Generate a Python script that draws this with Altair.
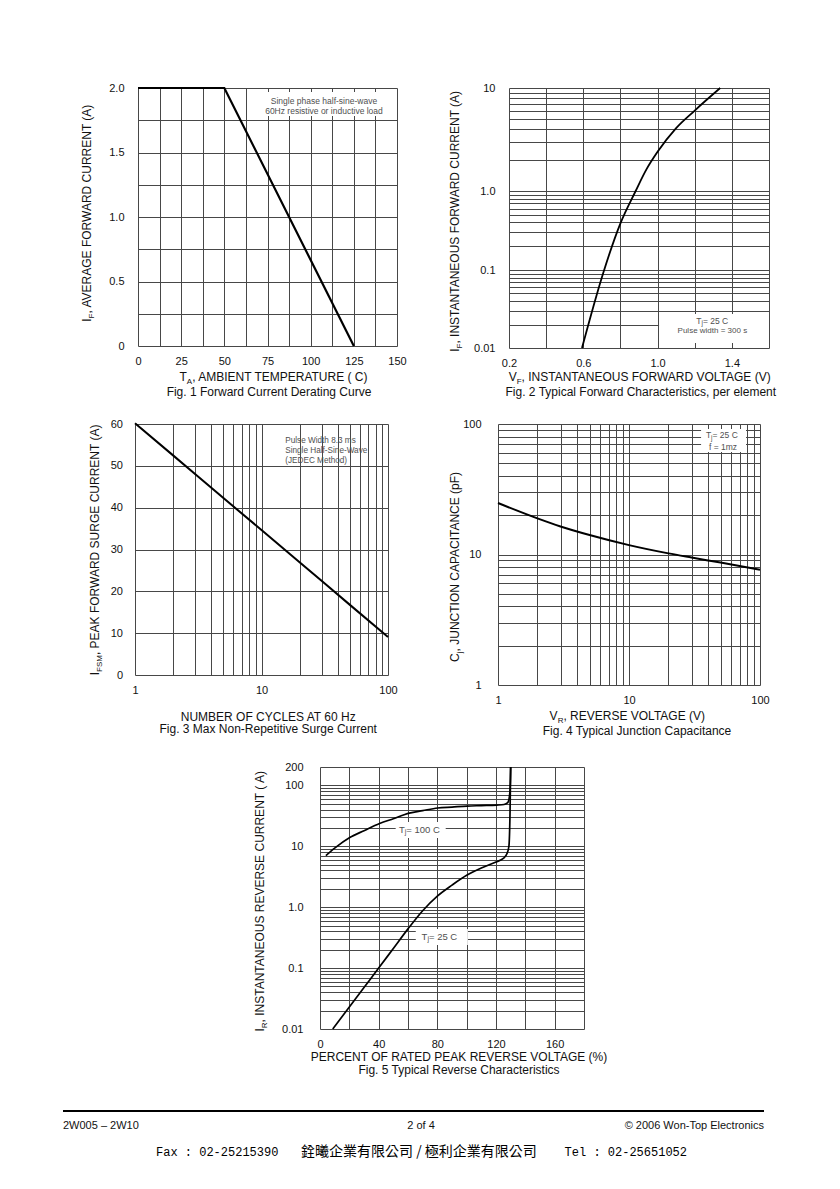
import altair as alt
import pandas as pd

FONT = "Liberation Sans"
MONO = "Liberation Mono"
CJK = "Noto Sans CJK TC"
GRID = "#474747"
INK = "#111111"
NOTE_INK = "#505050"

# ---------------- Fig. 1 ----------------
F1_TEMP = [0, 50, 125]
F1_CURRENT = [2.0, 2.0, 0.0]
F1_X_GRID = [0, 12.5, 25, 37.5, 50, 62.5, 75, 87.5, 100, 112.5, 125, 137.5, 150]
F1_X_LABELS = [(0, "0"), (25, "25"), (50, "50"), (75, "75"), (100, "100"), (125, "125"), (150, "150")]
F1_Y_GRID = [0, 0.25, 0.5, 0.75, 1.0, 1.25, 1.5, 1.75, 2.0]
F1_Y_LABELS = [(0, "0"), (0.5, "0.5"), (1.0, "1.0"), (1.5, "1.5"), (2.0, "2.0")]
F1_NOTE = ["Single phase half-sine-wave", "60Hz resistive or inductive load"]
F1_NOTE_X = [107.7, 107.7]
F1_NOTE_Y = [1.902, 1.824]
F1_BOX = [72.4, 150, 1.783, 1.969]

# ---------------- Fig. 2 ----------------
F2_VF = [0.593, 0.707, 0.80, 0.882, 0.94, 1.0, 1.1, 1.2, 1.3375]
F2_IF = [0.01, 0.091, 0.39, 1.0, 1.62, 2.4, 4.08, 6.04, 10.0]
F2_X_GRID = [0.2, 0.4, 0.6, 0.8, 1.0, 1.2, 1.4, 1.6]
F2_X_LABELS = [(0.2, "0.2"), (0.6, "0.6"), (1.0, "1.0"), (1.4, "1.4")]
F2_Y_GRID = [0.01, 0.02, 0.03, 0.04, 0.05, 0.06, 0.07, 0.08, 0.09,
             0.1, 0.2, 0.3, 0.4, 0.5, 0.6, 0.7, 0.8, 0.9,
             1, 2, 3, 4, 5, 6, 7, 8, 9, 10]
F2_Y_LABELS = [(0.01, "0.01"), (0.1, "0.1"), (1, "1.0"), (10, "10")]
F2_Y_DOMAIN = [0.01, 0.1, 1, 10]
F2_Y_RANGE = [260, 182, 103, 0]
F2_NOTE_X = 1.301
F2_NOTE_Y = [0.0222, 0.0165]
F2_BOX = [1.008, 1.6, 0.0116, 0.0273]

# ---------------- Fig. 3 ----------------
F3_CYCLES = [1, 2, 3, 5, 10, 20, 30, 50, 100]
F3_IFSM = [60.2, 52.5, 48.0, 42.3, 34.65, 26.96, 22.46, 16.76, 9.1]
F3_X_GRID = [1, 2, 3, 4, 5, 6, 7, 8, 9, 10, 20, 30, 40, 50, 60, 70, 80, 90, 100]
F3_X_LABELS = [(1, "1"), (10, "10"), (100, "100")]
F3_Y_GRID = [0, 10, 20, 30, 40, 50, 60]
F3_Y_LABELS = [(0, "0"), (10, "10"), (20, "20"), (30, "30"), (40, "40"), (50, "50"), (60, "60")]
F3_NOTE = ["Pulse Width 8.3 ms", "Single Half-Sine-Wave", "(JEDEC Method)"]
F3_NOTE_X = [15.4, 15.4, 15.4]
F3_NOTE_Y = [55.9, 53.5, 51.2]

# ---------------- Fig. 4 ----------------
F4_VR = [1, 2, 3, 5, 10, 20, 30, 50, 100]
F4_CJ = [24.8, 18.9, 16.4, 14.1, 11.8, 10.2, 9.48, 8.67, 7.65]
F4_X_GRID = [1, 2, 3, 4, 5, 6, 7, 8, 9, 10, 20, 30, 40, 50, 60, 70, 80, 90, 100]
F4_X_LABELS = [(1, "1"), (10, "10"), (100, "100")]
F4_Y_GRID = [1, 2, 3, 4, 5, 6, 7, 8, 9, 10, 20, 30, 40, 50, 60, 70, 80, 90, 100]
F4_Y_LABELS = [(1, "1"), (10, "10"), (100, "100")]
F4_NOTE_X = 52.2
F4_NOTE_Y = [82.3, 66.7]
F4_BOX = [35.5, 78.2, 61.0, 91.6]

# ---------------- Fig. 5 ----------------
F5_PCT_100 = [4, 10, 20.3, 30, 40.6, 50, 60.9, 70, 80.2, 90, 100.3, 110, 120.4, 125.5, 128, 129.3, 129.8, 130]
F5_IR_100 = [7.0, 9.3, 13.9, 18.0, 23.6, 28.3, 34.9, 38.4, 42.5, 44.0, 45.7, 46.5, 47.4, 48.5, 52, 70, 120, 200]
F5_PCT_25 = [8.7, 20, 30, 40, 50, 60, 70, 80, 90, 100, 110, 120, 125, 127.5, 128.8, 129.6, 130]
F5_IR_25 = [0.01, 0.023, 0.048, 0.1, 0.21, 0.44, 0.875, 1.52, 2.3, 3.33, 4.39, 5.52, 6.3, 7.6, 10.0, 40, 200]
F5_X_GRID = [0, 20, 40, 60, 80, 100, 120, 140, 160, 180]
F5_X_LABELS = [(0, "0"), (40, "40"), (80, "80"), (120, "120"), (160, "160")]
F5_Y_GRID = [0.01, 0.02, 0.03, 0.04, 0.05, 0.06, 0.07, 0.08, 0.09,
             0.1, 0.2, 0.3, 0.4, 0.5, 0.6, 0.7, 0.8, 0.9,
             1, 2, 3, 4, 5, 6, 7, 8, 9,
             10, 20, 30, 40, 50, 60, 70, 80, 90, 100, 200]
F5_Y_LABELS = [(0.01, "0.01"), (0.1, "0.1"), (1, "1.0"), (10, "10"), (100, "100"), (200, "200")]
F5_NOTE_X = [68.7, 82.3]
F5_NOTE_Y = [18.5, 0.324]
F5_BOX_100 = [51.6, 85.7, 13.7, 25.0]
F5_BOX_25 = [65.3, 100.8, 0.239, 0.438]

# ---------------- helpers ----------------
ARIAL = {' ': 278, ',': 278, '(': 333, ')': 333, '.': 278, '-': 333, '=': 584, '%': 889, ':': 278,
         'A': 667, 'B': 667, 'C': 722, 'D': 722, 'E': 667, 'F': 611, 'G': 778, 'H': 722, 'I': 278,
         'J': 500, 'K': 667, 'L': 556, 'M': 833, 'N': 722, 'O': 778, 'P': 667, 'Q': 778, 'R': 722,
         'S': 667, 'T': 611, 'U': 722, 'V': 667, 'W': 944, 'X': 667, 'Y': 667, 'Z': 611,
         'a': 556, 'b': 556, 'c': 500, 'd': 556, 'e': 556, 'f': 278, 'g': 556, 'h': 556, 'i': 222,
         'j': 222, 'k': 500, 'l': 222, 'm': 833, 'n': 556, 'o': 556, 'p': 556, 'q': 556, 'r': 333,
         's': 500, 't': 278, 'u': 556, 'v': 500, 'w': 722, 'x': 500, 'y': 500, 'z': 500}


def tw(s, size):
    return sum(ARIAL.get(c, 556) for c in s) * size / 1000.0


ONE = pd.DataFrame({"k": [0]})


def label_expr(pairs):
    parts = [f"datum.value == {v!r} ? '{t}'" for v, t in pairs]
    return " : ".join(parts) + " : ''"


def make_axis(values, pairs, pad):
    return alt.Axis(values=values, labelExpr=label_expr(pairs), grid=True, gridColor=GRID,
                    gridWidth=1, gridOpacity=1, domain=False, ticks=False, labelFont=FONT,
                    labelFontSize=11, labelColor=INK, labelPadding=pad, labelFlush=False,
                    labelOverlap=False, title=None)


def text_mark(text, px, py, size=12, align="left", baseline="alphabetic", angle=0,
              color=INK, font=FONT):
    kw = dict(text=text, fontSize=size, align=align, baseline=baseline, color=color, font=font)
    if angle:
        kw["angle"] = angle
    return alt.Chart(ONE).mark_text(**kw).encode(x=alt.value(px), y=alt.value(py))


def hrich(segs, cx, mid_y):
    total = sum(tw(t, 8 if s else 12) for t, s in segs)
    x = cx - total / 2
    base = mid_y + 4.3
    out = []
    for t, s in segs:
        fs = 8 if s else 12
        out.append(text_mark(t, x, base + (3 if s else 0), fs))
        x += tw(t, fs)
    return out


def vrich(segs, base_x, cy):
    total = sum(tw(t, 8 if s else 12) for t, s in segs)
    y = cy + total / 2
    out = []
    for t, s in segs:
        fs = 8 if s else 12
        out.append(text_mark(t, base_x + (3 if s else 0), y, fs, angle=270))
        y -= tw(t, fs)
    return out


def note_rich(segs, xv, yv, X, Y, size, subsize):
    total = sum(tw(t, subsize if s else size) for t, s in segs)
    dx = -total / 2
    df = pd.DataFrame({"x": [xv], "y": [yv]})
    out = []
    for t, s in segs:
        fs = subsize if s else size
        out.append(alt.Chart(df).mark_text(text=t, fontSize=fs, font=FONT, color=NOTE_INK,
                                           align="left", baseline="middle", dx=dx,
                                           dy=(2.5 if s else 0)).encode(x=X, y=Y))
        dx += tw(t, fs)
    return out


def white_box(b, X, Y):
    df = pd.DataFrame({"x": [b[0]], "x2": [b[1]], "y": [b[2]], "y2": [b[3]]})
    return alt.Chart(df).mark_rect(color="white").encode(x=X, x2=alt.X2("x2"), y=Y, y2=alt.Y2("y2"))


def curve(xs, ys, X, Y, width=2.0, interp="linear"):
    df = pd.DataFrame({"x": xs, "y": ys})
    return alt.Chart(df).mark_line(color="black", strokeWidth=width, interpolate=interp).encode(x=X, y=Y)


def edge(y1, y2, x2=10):
    # invisible white strip that fixes a row's vertical extent in the page layout
    return alt.Chart(ONE).mark_rect(color="white").encode(
        x=alt.value(0), x2=alt.value(x2), y=alt.value(y1), y2=alt.value(y2))


def spacer(w, top=None, bottom=None):
    layers = []
    if top is not None:
        layers.append(edge(top, top + 0.1))
    if bottom is not None:
        layers.append(edge(bottom - 0.1, bottom))
    if not layers:
        layers.append(alt.Chart(ONE).mark_point(opacity=0, size=1).encode(
            x=alt.value(w / 2), y=alt.value(5)))
    return alt.layer(*layers).properties(width=w, height=10)


# ---------------- Fig. 1 ----------------
X1 = alt.X("x:Q", scale=alt.Scale(domain=[0, 150], nice=False, zero=False),
           axis=make_axis(F1_X_GRID, F1_X_LABELS, 9))
Y1 = alt.Y("y:Q", scale=alt.Scale(domain=[0, 2], nice=False),
           axis=make_axis(F1_Y_GRID, F1_Y_LABELS, 14))
fig1_layers = [curve(F1_TEMP, F1_CURRENT, X1, Y1, 2.2), white_box(F1_BOX, X1, Y1),
               alt.Chart(pd.DataFrame({"x": F1_NOTE_X, "y": F1_NOTE_Y, "t": F1_NOTE})).mark_text(
                   fontSize=8.5, font=FONT, color=NOTE_INK, align="center", baseline="middle"
               ).encode(x=X1, y=Y1, text="t:N")]
fig1_layers += vrich([("I", False), ("F", True), (", AVERAGE FORWARD CURRENT (A)", False)], -47.5, 124)
fig1_layers += hrich([("T", False), ("A", True), (", AMBIENT TEMPERATURE ( C)", False)], 136.5, 289)
fig1_layers.append(text_mark("Fig. 1  Forward Current Derating Curve", 131, 304, align="center", baseline="middle"))
fig1 = alt.layer(*fig1_layers).properties(width=259, height=258)

# ---------------- Fig. 2 ----------------
X2 = alt.X("x:Q", scale=alt.Scale(domain=[0.2, 1.6], nice=False, zero=False),
           axis=make_axis(F2_X_GRID, F2_X_LABELS, 9))
Y2 = alt.Y("y:Q", scale=alt.Scale(type="log", domain=F2_Y_DOMAIN, range=F2_Y_RANGE, nice=False),
           axis=make_axis(F2_Y_GRID, F2_Y_LABELS, 14))
fig2_layers = [curve(F2_VF, F2_IF, X2, Y2, 1.8, "monotone"), white_box(F2_BOX, X2, Y2)]
fig2_layers += note_rich([("T", False), ("j", True), (" = 25 C", False)], F2_NOTE_X, F2_NOTE_Y[0], X2, Y2, 8.5, 6.5)
fig2_layers += note_rich([("Pulse width = 300  s", False)], F2_NOTE_X, F2_NOTE_Y[1], X2, Y2, 8.0, 6.0)
fig2_layers += vrich([("I", False), ("F", True), (", INSTANTANEOUS FORWARD CURRENT (A)", False)], -50.2, 132)
fig2_layers += hrich([("V", False), ("F", True), (", INSTANTANEOUS FORWARD VOLTAGE (V)", False)], 132.8, 289)
fig2_layers.append(text_mark("Fig. 2  Typical Forward Characteristics, per element", 131.8, 304, align="center", baseline="middle"))
fig2 = alt.layer(*fig2_layers).properties(width=260, height=260)

# ---------------- Fig. 3 ----------------
X3 = alt.X("x:Q", scale=alt.Scale(type="log", domain=[1, 100], nice=False),
           axis=make_axis(F3_X_GRID, F3_X_LABELS, 9))
Y3 = alt.Y("y:Q", scale=alt.Scale(domain=[0, 60], nice=False),
           axis=make_axis(F3_Y_GRID, F3_Y_LABELS, 12.5))
fig3_layers = [curve(F3_CYCLES, F3_IFSM, X3, Y3, 2.0, "linear"),
               alt.Chart(pd.DataFrame({"x": F3_NOTE_X, "y": F3_NOTE_Y, "t": F3_NOTE})).mark_text(
                   fontSize=8.2, font=FONT, color=NOTE_INK, align="left", baseline="middle"
               ).encode(x=X3, y=Y3, text="t:N")]
fig3_layers += vrich([("I", False), ("FSM", True), (", PEAK FORWARD SURGE CURRENT (A)", False)], -36.3, 125.5)
fig3_layers.append(text_mark("NUMBER OF CYCLES AT 60 Hz", 133.2, 292.5, align="center", baseline="middle"))
fig3_layers.append(text_mark("Fig. 3  Max Non-Repetitive Surge Current", 133.2, 304.5, align="center", baseline="middle"))
fig3 = alt.layer(*fig3_layers).properties(width=253, height=251)

# ---------------- Fig. 4 ----------------
X4 = alt.X("x:Q", scale=alt.Scale(type="log", domain=[1, 100], nice=False),
           axis=make_axis(F4_X_GRID, F4_X_LABELS, 9))
Y4 = alt.Y("y:Q", scale=alt.Scale(type="log", domain=[1, 100], nice=False),
           axis=make_axis(F4_Y_GRID, F4_Y_LABELS, 17))
fig4_layers = [curve(F4_VR, F4_CJ, X4, Y4, 2.0, "monotone"), white_box(F4_BOX, X4, Y4)]
fig4_layers += note_rich([("T", False), ("j", True), (" = 25 C", False)], F4_NOTE_X, F4_NOTE_Y[0], X4, Y4, 8.5, 6.5)
fig4_layers += note_rich([("f = 1mz", False)], F4_NOTE_X, F4_NOTE_Y[1], X4, Y4, 8.5, 6.5)
fig4_layers += vrich([("C", False), ("j", True), (", JUNCTION CAPACITANCE (pF)", False)], -39.3, 142)
fig4_layers += hrich([("V", False), ("R", True), (", REVERSE VOLTAGE (V)", False)], 130.2, 292)
fig4_layers.append(text_mark("Fig. 4  Typical Junction Capacitance", 139, 307, align="center", baseline="middle"))
fig4 = alt.layer(*fig4_layers).properties(width=262, height=261)

# ---------------- Fig. 5 ----------------
X5 = alt.X("x:Q", scale=alt.Scale(domain=[0, 180], nice=False, zero=False),
           axis=make_axis(F5_X_GRID, F5_X_LABELS, 9))
Y5 = alt.Y("y:Q", scale=alt.Scale(type="log", domain=[0.01, 200], nice=False),
           axis=make_axis(F5_Y_GRID, F5_Y_LABELS, 17))
fig5_layers = [curve(F5_PCT_100, F5_IR_100, X5, Y5, 1.7, "monotone"),
               curve(F5_PCT_25, F5_IR_25, X5, Y5, 1.7, "monotone"),
               white_box(F5_BOX_100, X5, Y5), white_box(F5_BOX_25, X5, Y5)]
fig5_layers += note_rich([("T", False), ("j", True), (" = 100 C", False)], F5_NOTE_X[0], F5_NOTE_Y[0], X5, Y5, 9.5, 7)
fig5_layers += note_rich([("T", False), ("j", True), (" = 25 C", False)], F5_NOTE_X[1], F5_NOTE_Y[1], X5, Y5, 9.5, 7)
fig5_layers += vrich([("I", False), ("R", True), (", INSTANTANEOUS REVERSE CURRENT ( A)", False)], -56.3, 133)
fig5_layers.append(text_mark("PERCENT OF RATED PEAK REVERSE VOLTAGE (%)", 139, 289.5, align="center", baseline="middle"))
fig5_layers.append(text_mark("Fig. 5  Typical Reverse Characteristics", 139, 303, align="center", baseline="middle"))
fig5 = alt.layer(*fig5_layers).properties(width=264, height=262)

# ---------------- footer ----------------
footer = alt.layer(
    edge(-18, -17.9),
    alt.Chart(ONE).mark_rect(color="black").encode(
        x=alt.value(0), x2=alt.value(701), y=alt.value(1), y2=alt.value(3)),
    text_mark("2W005 \u2013 2W10", 0, 17, 11, baseline="middle"),
    text_mark("2 of 4", 358, 17, 11, align="center", baseline="middle"),
    text_mark("\u00a9 2006 Won-Top Electronics", 701, 17, 11, align="right", baseline="middle"),
    text_mark("Fax : 02-25215390", 93, 43, 12, baseline="middle", font=MONO, color="#000000"),
    text_mark("銓曦企業有限公司 / 極利企業有限公司", 238, 43, 14, baseline="middle", font=CJK, color="#000000"),
    text_mark("Tel : 02-25651052", 624, 43, 12, align="right", baseline="middle", font=MONO, color="#000000"),
).properties(width=701, height=60)

# ---------------- page layout ----------------
row1 = alt.hconcat(spacer(75, top=-18, bottom=320), fig1, spacer(112), fig2,
                   spacing=0, bounds="flush")
row2 = alt.hconcat(spacer(72, top=-14, bottom=324), fig3, spacer(110), fig4,
                   spacing=0, bounds="flush")
row3 = alt.hconcat(spacer(257, top=-17, bottom=322), fig5,
                   spacing=0, bounds="flush")

chart = alt.vconcat(row1, row2, row3, footer, spacing=0).properties(
    padding={"left": 54, "top": 61, "right": 5, "bottom": 5}
).configure_view(stroke="transparent")

chart.save("out.html", embed_options={"renderer": "svg", "actions": False})
